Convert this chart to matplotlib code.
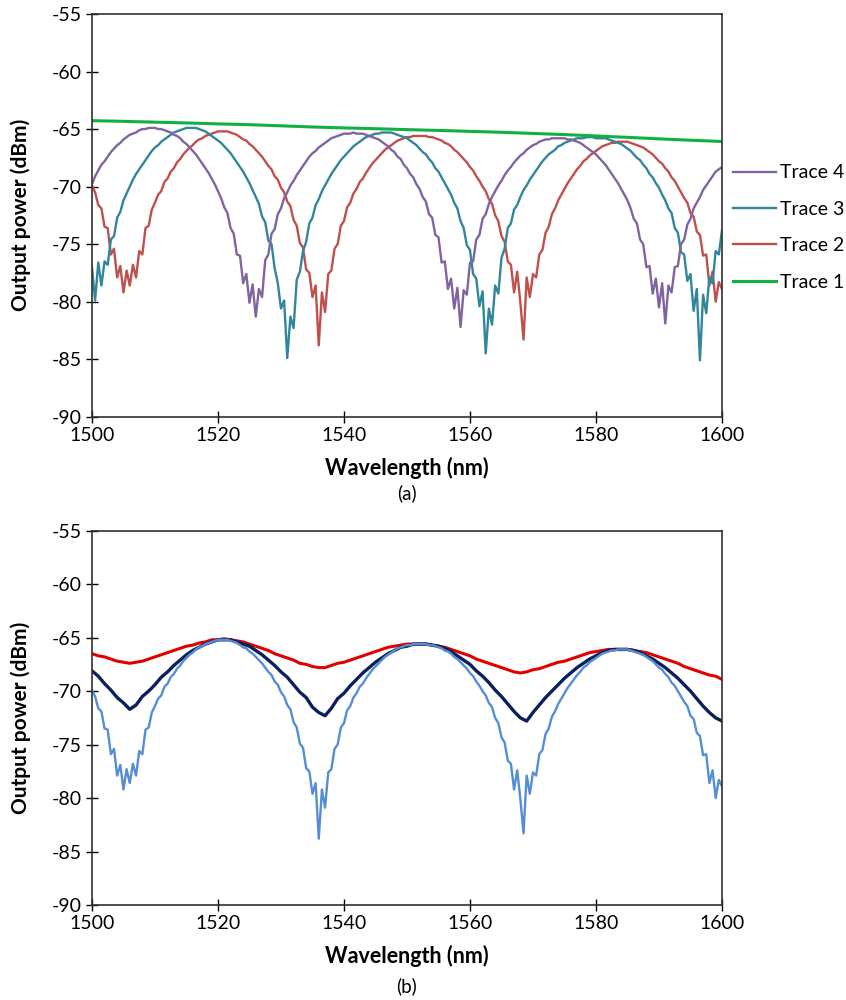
import numpy as np
import matplotlib
matplotlib.use("Agg")
import matplotlib.pyplot as plt

plt.rcParams["font.family"] = ["Lato", "DejaVu Sans"]
plt.rcParams["axes.unicode_minus"] = False

# wavelength sampling (nm)
wl_fine = np.arange(1500, 1600.01, 0.5)
wl_1nm = np.arange(1500, 1601, 1)
wl_5nm = np.arange(1500, 1601, 5)

# ---- panel (a), values (dBm) ----
trace4 = [
    -69.8, -69.1, -68.6, -68.1, -67.8, -67.4, -67.0, -66.7, -66.4, -66.2,
    -65.9, -65.7, -65.5, -65.4, -65.3, -65.1, -65.0, -65.0, -64.9, -64.9,
    -64.9, -65.0, -65.0, -65.1, -65.2, -65.3, -65.5, -65.6, -65.8, -66.1,
    -66.3, -66.6, -66.9, -67.2, -67.6, -68.0, -68.4, -68.8, -69.3, -69.8,
    -70.4, -71.0, -71.8, -72.3, -73.6, -74.1, -75.9, -76.0, -78.4, -77.6,
    -80.1, -78.5, -81.3, -78.9, -79.6, -76.4, -75.9, -74.1, -73.7, -72.4,
    -71.9, -71.0, -70.5, -69.9, -69.5, -69.0, -68.6, -68.2, -67.8, -67.4,
    -67.1, -66.9, -66.6, -66.4, -66.2, -66.0, -65.8, -65.7, -65.6, -65.5,
    -65.4, -65.4, -65.4, -65.3, -65.4, -65.4, -65.4, -65.5, -65.6, -65.7,
    -65.8, -65.9, -66.1, -66.3, -66.5, -66.8, -67.0, -67.4, -67.6, -68.1,
    -68.4, -68.9, -69.2, -69.8, -70.2, -70.9, -71.3, -72.4, -72.7, -74.2,
    -74.4, -76.6, -76.5, -78.9, -78.0, -80.6, -78.8, -82.2, -79.0, -79.4,
    -76.6, -76.5, -74.6, -74.2, -72.8, -72.4, -71.5, -70.9, -70.4, -69.9,
    -69.5, -69.0, -68.6, -68.3, -67.9, -67.6, -67.3, -67.1, -66.8, -66.6,
    -66.4, -66.3, -66.1, -66.0, -65.9, -65.9, -65.8, -65.8, -65.8, -65.8,
    -65.8, -65.9, -65.9, -66.0, -66.1, -66.2, -66.4, -66.6, -66.8, -67.0,
    -67.2, -67.5, -67.8, -68.1, -68.5, -68.9, -69.3, -69.7, -70.2, -70.7,
    -71.2, -71.9, -72.8, -73.2, -74.6, -75.0, -77.0, -76.9, -79.3, -78.0,
    -80.5, -78.4, -81.9, -78.6, -79.2, -77.0, -76.9, -75.0, -74.6, -73.3,
    -72.8, -71.9, -71.4, -70.9, -70.3, -69.9, -69.5, -69.1, -68.7, -68.5,
    -68.3,
]
trace3 = [
    -77.0, -79.9, -76.6, -78.6, -76.5, -76.8, -74.6, -74.3, -72.7, -72.2,
    -71.2, -70.6, -70.0, -69.4, -68.9, -68.5, -68.1, -67.7, -67.3, -66.9,
    -66.6, -66.4, -66.1, -65.9, -65.7, -65.5, -65.3, -65.2, -65.1, -65.0,
    -64.9, -64.9, -64.9, -64.9, -65.0, -65.1, -65.2, -65.4, -65.6, -65.8,
    -66.0, -66.2, -66.5, -66.8, -67.1, -67.5, -67.9, -68.3, -68.7, -69.2,
    -69.7, -70.3, -70.9, -71.5, -72.6, -73.1, -74.7, -75.0, -77.1, -78.4,
    -80.6, -79.9, -84.9, -81.3, -82.3, -78.1, -77.4, -75.6, -74.8, -73.2,
    -72.7, -71.6, -71.1, -70.4, -69.9, -69.4, -68.9, -68.5, -68.1, -67.7,
    -67.4, -67.1, -66.8, -66.5, -66.3, -66.1, -65.9, -65.7, -65.6, -65.5,
    -65.4, -65.4, -65.3, -65.3, -65.3, -65.3, -65.4, -65.5, -65.6, -65.7,
    -65.8, -66.0, -66.2, -66.4, -66.7, -67.0, -67.2, -67.6, -67.9, -68.4,
    -68.7, -69.2, -69.7, -70.2, -70.7, -71.4, -71.9, -73.0, -73.6, -75.1,
    -75.5, -77.6, -78.0, -80.4, -79.1, -84.5, -80.6, -82.0, -78.6, -79.3,
    -76.2, -75.4, -73.6, -73.2, -72.0, -71.6, -70.9, -70.3, -69.9, -69.4,
    -69.0, -68.6, -68.2, -67.8, -67.5, -67.2, -67.0, -66.8, -66.5, -66.4,
    -66.2, -66.1, -66.0, -65.9, -65.8, -65.8, -65.8, -65.7, -65.7, -65.7,
    -65.8, -65.8, -65.8, -65.8, -65.9, -66.0, -66.1, -66.2, -66.3, -66.5,
    -66.7, -66.9, -67.2, -67.5, -67.7, -68.1, -68.4, -68.9, -69.2, -69.7,
    -70.1, -70.7, -71.2, -71.9, -72.3, -73.6, -74.0, -75.7, -75.9, -78.2,
    -77.6, -80.8, -78.9, -85.1, -79.4, -81.0, -77.9, -78.4, -75.6, -75.9,
    -73.8,
]
trace2 = [
    -69.9, -70.5, -71.6, -71.9, -73.5, -73.6, -75.9, -75.4, -77.9, -76.9,
    -79.2, -77.3, -78.6, -76.8, -77.9, -75.6, -75.9, -73.6, -73.4, -72.0,
    -71.4, -70.7, -70.4, -69.6, -69.3, -68.7, -68.4, -67.9, -67.6, -67.2,
    -66.9, -66.6, -66.4, -66.1, -65.9, -65.8, -65.6, -65.5, -65.4, -65.3,
    -65.2, -65.2, -65.2, -65.2, -65.3, -65.4, -65.5, -65.7, -65.9, -66.0,
    -66.3, -66.5, -66.8, -67.1, -67.4, -67.8, -68.2, -68.5, -69.1, -69.4,
    -70.1, -70.5, -71.3, -71.7, -72.9, -73.4, -74.9, -75.3, -77.2, -77.5,
    -79.6, -78.6, -83.8, -79.2, -80.9, -77.6, -77.3, -75.4, -75.0, -73.4,
    -73.0, -71.8, -71.4, -70.6, -70.2, -69.6, -69.3, -68.8, -68.4, -68.0,
    -67.7, -67.4, -67.1, -66.8, -66.6, -66.4, -66.2, -66.0, -65.9, -65.8,
    -65.7, -65.7, -65.6, -65.6, -65.6, -65.6, -65.6, -65.7, -65.7, -65.8,
    -65.9, -66.0, -66.2, -66.3, -66.5, -66.8, -67.0, -67.3, -67.6, -67.9,
    -68.3, -68.6, -69.1, -69.5, -70.0, -70.4, -71.1, -71.5, -72.5, -73.0,
    -74.3, -74.8, -76.5, -76.8, -79.2, -77.4, -80.1, -83.3, -77.9, -79.6,
    -77.6, -77.9, -75.9, -75.5, -74.0, -73.5, -72.4, -71.9, -71.2, -70.7,
    -70.2, -69.7, -69.3, -68.9, -68.5, -68.2, -67.8, -67.6, -67.3, -67.1,
    -66.9, -66.7, -66.5, -66.4, -66.3, -66.2, -66.2, -66.1, -66.1, -66.1,
    -66.1, -66.2, -66.3, -66.4, -66.5, -66.6, -66.8, -67.0, -67.2, -67.5,
    -67.8, -68.0, -68.4, -68.7, -69.2, -69.5, -70.0, -70.5, -71.0, -71.4,
    -72.3, -72.6, -73.9, -74.2, -76.0, -75.9, -78.6, -77.4, -80.0, -78.3,
    -78.9,
]
trace1 = [-64.27, -64.33, -64.40, -64.47, -64.55, -64.62, -64.72, -64.82,
          -64.90, -64.97, -65.05, -65.12, -65.20, -65.28, -65.38, -65.48,
          -65.60, -65.72, -65.85, -65.97, -66.08]

# ---- panel (b) ----
b_light = trace2  # same measured spectrum as Trace 2
b_navy = [
    -68.1, -68.6, -69.3, -69.9, -70.6, -71.1, -71.7, -71.3, -70.5, -70.0,
    -69.4, -68.7, -68.2, -67.6, -67.1, -66.6, -66.2, -65.9, -65.6, -65.4,
    -65.2, -65.2, -65.2, -65.4, -65.6, -65.8, -66.2, -66.6, -67.1, -67.6,
    -68.2, -68.7, -69.4, -70.1, -70.6, -71.5, -72.0, -72.3, -71.6, -70.7,
    -70.2, -69.5, -68.9, -68.3, -67.8, -67.3, -66.9, -66.5, -66.2, -65.9,
    -65.8, -65.6, -65.6, -65.6, -65.7, -65.8, -66.0, -66.3, -66.7, -67.1,
    -67.5, -68.1, -68.6, -69.2, -69.9, -70.5, -71.2, -71.9, -72.5, -72.8,
    -72.0, -71.3, -70.6, -70.0, -69.4, -68.8, -68.3, -67.8, -67.4, -67.0,
    -66.7, -66.4, -66.2, -66.1, -66.1, -66.1, -66.2, -66.4, -66.7, -67.0,
    -67.4, -67.8, -68.3, -68.8, -69.4, -70.0, -70.7, -71.4, -72.0, -72.5,
    -72.8,
]
b_red = [
    -66.5, -66.7, -66.8, -67.0, -67.2, -67.3, -67.4, -67.3, -67.2, -67.0,
    -66.8, -66.6, -66.4, -66.2, -66.0, -65.8, -65.7, -65.5, -65.4, -65.2,
    -65.2, -65.1, -65.2, -65.3, -65.4, -65.6, -65.8, -66.0, -66.2, -66.5,
    -66.7, -66.9, -67.1, -67.4, -67.5, -67.7, -67.8, -67.8, -67.6, -67.4,
    -67.3, -67.1, -66.9, -66.7, -66.5, -66.3, -66.1, -65.9, -65.8, -65.7,
    -65.6, -65.6, -65.6, -65.6, -65.7, -65.8, -65.9, -66.1, -66.3, -66.5,
    -66.7, -67.0, -67.2, -67.4, -67.6, -67.8, -68.0, -68.2, -68.3, -68.2,
    -68.0, -67.9, -67.7, -67.5, -67.3, -67.2, -67.0, -66.8, -66.6, -66.4,
    -66.3, -66.2, -66.1, -66.1, -66.1, -66.1, -66.2, -66.3, -66.4, -66.6,
    -66.8, -67.0, -67.2, -67.4, -67.7, -67.9, -68.1, -68.3, -68.5, -68.6,
    -68.9,
]

xticks = list(range(1500, 1601, 20))
yticks = list(range(-90, -54, 5))

fig = plt.figure(figsize=(8.46, 10), dpi=100)
ax_a = fig.add_axes([0.1087, 0.5833, 0.7447, 0.4027])
ax_b = fig.add_axes([0.1087, 0.095, 0.7447, 0.3743])

lw = 1.7
l2, = ax_a.plot(wl_fine, trace2, color="#C0504D", lw=lw)
l3, = ax_a.plot(wl_fine, trace3, color="#31869B", lw=lw)
l4, = ax_a.plot(wl_fine, trace4, color="#8064A2", lw=lw)
l1, = ax_a.plot(wl_5nm, trace1, color="#12B041", lw=2.2)

ax_b.plot(wl_1nm, b_red, color="#E00000", lw=2.2)
ax_b.plot(wl_1nm, b_navy, color="#0A1F5C", lw=2.4)
ax_b.plot(wl_fine, b_light, color="#558ED5", lw=lw)

for ax in (ax_a, ax_b):
    ax.set_xlim(1500, 1600)
    ax.set_ylim(-90, -55)
    ax.set_xticks(xticks)
    ax.set_yticks(yticks)
    ax.tick_params(direction="inout", length=9, width=1.0, labelsize=14,
                   colors="#000000", pad=3)
    for s in ax.spines.values():
        s.set_linewidth(1.2)
        s.set_color("#303030")
    ax.set_xlabel("Wavelength (nm)", fontsize=15.5, fontweight="bold", labelpad=9)
    ax.set_ylabel("Output power (dBm)", fontsize=15, fontweight="bold", labelpad=15)

fig.text(0.481, 0.507, "(a)", ha="center", va="center", fontsize=13.5)
fig.text(0.481, 0.014, "(b)", ha="center", va="center", fontsize=13.5)

fig.legend(handles=[l4, l3, l2, l1],
           labels=["Trace 4", "Trace 3", "Trace 2", "Trace 1"],
           loc="center left", bbox_to_anchor=(0.866, 0.7725), frameon=False,
           fontsize=14, handlelength=2.25, handletextpad=0.2, labelspacing=1.0,
           borderpad=0, borderaxespad=0)

fig.savefig("out.png", dpi=100)
